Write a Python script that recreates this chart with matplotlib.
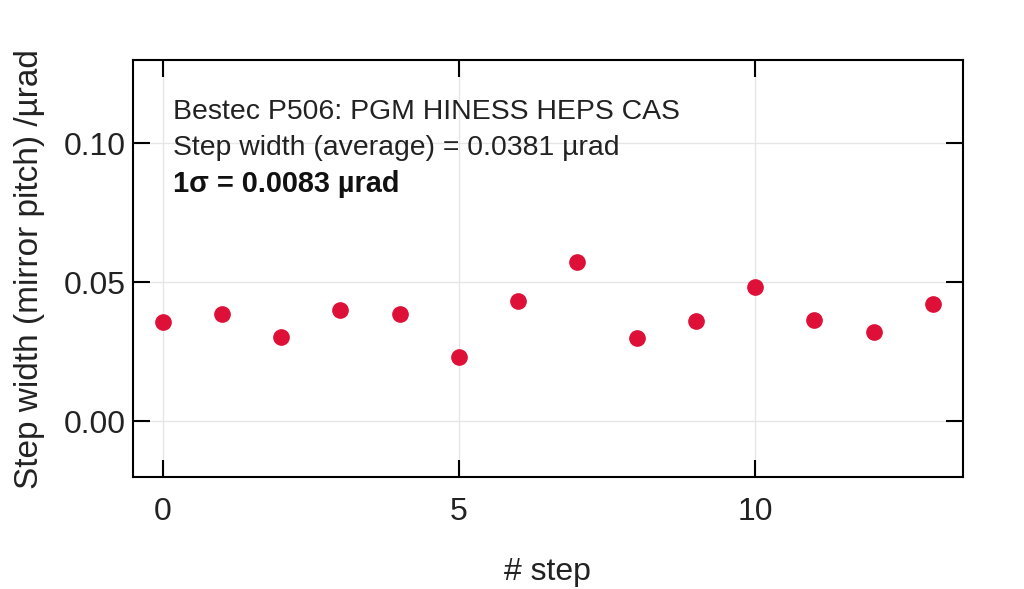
import numpy as np
import matplotlib.pyplot as plt

plt.rcParams['font.family'] = ['Liberation Sans', 'DejaVu Sans']

# step index and measured step width (mirror pitch), urad
steps = np.arange(14)
width = [0.0359, 0.0388, 0.0304, 0.0402, 0.0388, 0.0232, 0.0435,
         0.0572, 0.0301, 0.0362, 0.0482, 0.0366, 0.0322, 0.0424]

mean = np.mean(width)
sigma = 0.0083

fig = plt.figure(figsize=(10.24, 5.89), dpi=100)
ax = fig.add_axes([0.130, 0.190, 0.810, 0.708])

ax.plot(steps, width, 'o', color='#DE1038', markersize=11, zorder=3)

ax.set_xlim(-0.5, 13.5)
ax.set_ylim(-0.02, 0.13)
ax.set_xticks([0, 5, 10])
ax.set_yticks([0.0, 0.05, 0.10])
ax.set_yticklabels(['0.00', '0.05', '0.10'])
ax.grid(True, color='#e6e6e6', linewidth=1)
ax.set_axisbelow(True)

ax.tick_params(direction='in', length=12, width=1.5, top=True, right=True,
               labelsize=23, colors='black', labelcolor='#222222')
ax.tick_params(axis='x', pad=14)
ax.tick_params(axis='y', pad=5)
for s in ax.spines.values():
    s.set_linewidth(1.5)

ax.set_xlabel('# step', fontsize=23, labelpad=22, color='#222222')
ax.set_ylabel('Step width (mirror pitch) /\u00b5rad', fontsize=24, labelpad=14,
              color='#222222')

ax.text(0.17, 0.1115, 'Bestec P506: PGM HINESS HEPS CAS', fontsize=20.4,
        va='center', color='#222222')
ax.text(0.17, 0.0985, 'Step width (average) = %.4f \u00b5rad' % mean,
        fontsize=20.4, va='center', color='#222222')
ax.text(0.17, 0.0855, '1\u03c3 = %.4f \u00b5rad' % sigma, fontsize=20.8,
        va='center', fontweight='bold', color='#111111')

fig.savefig('out.png', dpi=100)
